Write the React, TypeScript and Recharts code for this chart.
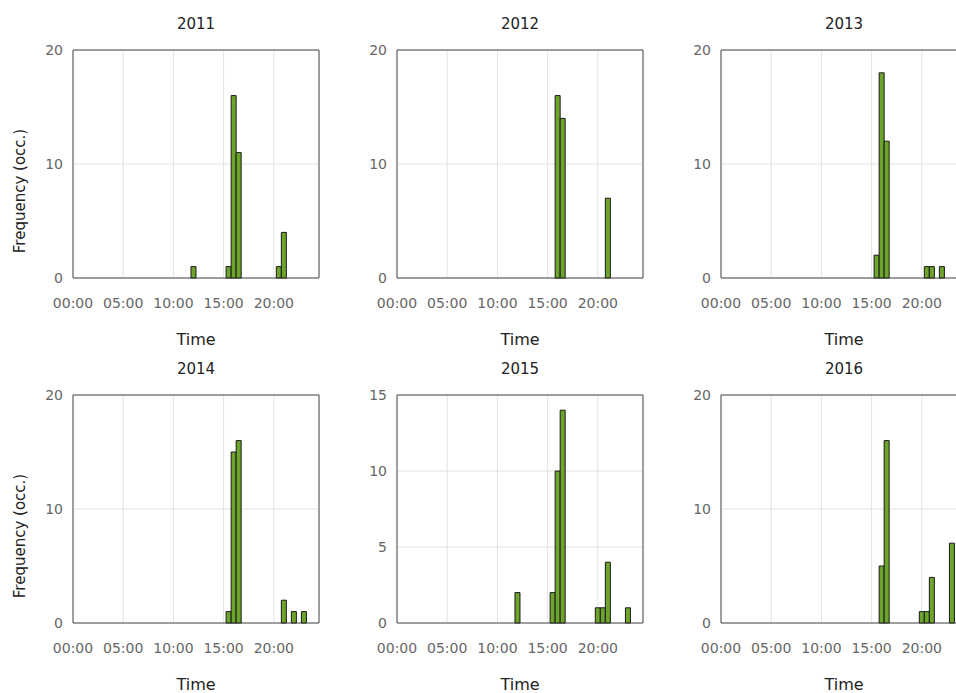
import React from 'react';
import { BarChart, Bar, XAxis, YAxis, CartesianGrid, ReferenceArea } from 'recharts';

// bin centres (hours of the day, half-hour bins) and counts per year
const hours2011 = [12, 15.5, 16, 16.5, 20.5, 21];
const counts2011 = [1, 1, 16, 11, 1, 4];

const hours2012 = [16, 16.5, 21];
const counts2012 = [16, 14, 7];

const hours2013 = [15.5, 16, 16.5, 20.5, 21, 22];
const counts2013 = [2, 18, 12, 1, 1, 1];

const hours2014 = [15.5, 16, 16.5, 21, 22, 23];
const counts2014 = [1, 15, 16, 2, 1, 1];

const hours2015 = [12, 15.5, 16, 16.5, 20, 20.5, 21, 23];
const counts2015 = [2, 2, 10, 14, 1, 1, 4, 1];

const hours2016 = [16, 16.5, 20, 20.5, 21, 23];
const counts2016 = [5, 16, 1, 1, 4, 7];

const xTicks = [0, 5, 10, 15, 20];
const yTicks20 = [0, 10, 20];
const yTicks15 = [0, 5, 10, 15];

const X_MAX = 24.5;
const PLOT_W = 246;
const PLOT_H = 228;
const Y_AXIS_W = 50;
const X_AXIS_H = 40;
const M_TOP = 15;
const M_RIGHT = 5;
const CHART_W = Y_AXIS_W + PLOT_W + M_RIGHT;
const CHART_H = M_TOP + PLOT_H + X_AXIS_H;

const colLefts = [73, 397, 721];
const rowTops = [50, 395];

const BAR_FILL = '#6da52c';
const TICK_COLOR = '#666';
const TEXT_COLOR = '#222';

const fmtHour = (h: number) => `${String(h).padStart(2, '0')}:00`;

interface PanelProps {
  title: string;
  hours: number[];
  counts: number[];
  yMax: number;
  yTicks: number[];
  col: number;
  row: number;
}

function Panel({ title, hours, counts, yMax, yTicks, col, row }: PanelProps) {
  const data = hours.map((h, i) => ({ hour: h, count: counts[i] }));
  const left = colLefts[col];
  const top = rowTops[row];
  const cx = left + PLOT_W / 2;

  return (
    <>
      <div style={{ position: 'absolute', left: left - Y_AXIS_W, top: top - M_TOP }}>
        <BarChart
          width={CHART_W}
          height={CHART_H}
          data={data}
          margin={{ top: M_TOP, right: M_RIGHT, bottom: 0, left: 0 }}
        >
          <CartesianGrid stroke="#e2e2e2" />
          <XAxis
            dataKey="hour"
            type="number"
            domain={[0, X_MAX]}
            ticks={xTicks}
            tickFormatter={fmtHour}
            height={X_AXIS_H}
            tickSize={0}
            tickMargin={20}
            axisLine={false}
            tick={{ fill: TICK_COLOR, fontSize: 14 }}
            interval={0}
          />
          <YAxis
            domain={[0, yMax]}
            ticks={yTicks}
            width={Y_AXIS_W}
            tickSize={0}
            tickMargin={10}
            axisLine={false}
            tick={{ fill: TICK_COLOR, fontSize: 14 }}
            interval={0}
          />
          <Bar
            dataKey="count"
            fill={BAR_FILL}
            stroke="#1a1a1a"
            strokeWidth={1}
            barSize={5}
            isAnimationActive={false}
          />
          <ReferenceArea
            x1={0}
            x2={X_MAX}
            y1={0}
            y2={yMax}
            fill="none"
            stroke="#4a4a4a"
            strokeWidth={1}
          />
        </BarChart>
      </div>
      <div
        style={{
          position: 'absolute',
          left: cx - 60,
          width: 120,
          top: top - 35,
          textAlign: 'center',
          fontSize: 15,
          color: TEXT_COLOR,
        }}
      >
        {title}
      </div>
      <div
        style={{
          position: 'absolute',
          left: cx - 60,
          width: 120,
          top: top + PLOT_H + 55,
          height: 14,
          lineHeight: '14px',
          textAlign: 'center',
          fontSize: 16,
          color: TEXT_COLOR,
        }}
      >
        Time
      </div>
      {col === 0 && (
        <div
          style={{
            position: 'absolute',
            left: 20 - 80,
            width: 160,
            top: top + PLOT_H / 2 + 27 - 10,
            height: 20,
            lineHeight: '20px',
            textAlign: 'center',
            fontSize: 15,
            color: TEXT_COLOR,
            transform: 'rotate(-90deg)',
          }}
        >
          Frequency (occ.)
        </div>
      )}
    </>
  );
}

export default function App() {
  return (
    <div
      style={{
        position: 'fixed',
        left: 0,
        top: 0,
        width: 956,
        height: 693,
        overflow: 'hidden',
        background: '#fff',
        fontFamily: '"DejaVu Sans", sans-serif',
      }}
    >
      <Panel title="2011" hours={hours2011} counts={counts2011} yMax={20} yTicks={yTicks20} col={0} row={0} />
      <Panel title="2012" hours={hours2012} counts={counts2012} yMax={20} yTicks={yTicks20} col={1} row={0} />
      <Panel title="2013" hours={hours2013} counts={counts2013} yMax={20} yTicks={yTicks20} col={2} row={0} />
      <Panel title="2014" hours={hours2014} counts={counts2014} yMax={20} yTicks={yTicks20} col={0} row={1} />
      <Panel title="2015" hours={hours2015} counts={counts2015} yMax={15} yTicks={yTicks15} col={1} row={1} />
      <Panel title="2016" hours={hours2016} counts={counts2016} yMax={20} yTicks={yTicks20} col={2} row={1} />
    </div>
  );
}
